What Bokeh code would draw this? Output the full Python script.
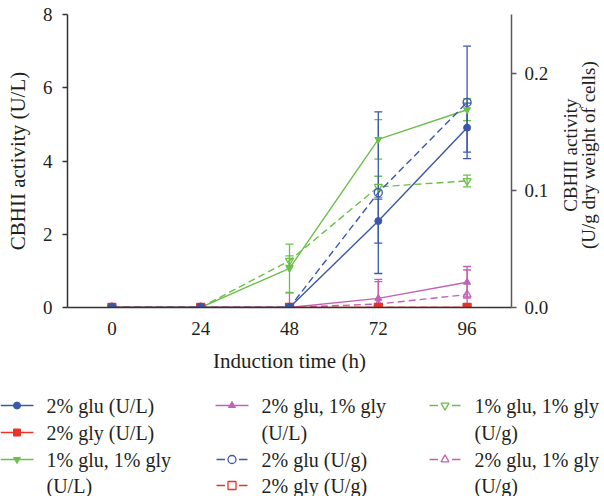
import math
from bokeh.plotting import figure
from bokeh.models import (Range1d, LinearAxis, Whisker, ColumnDataSource,
                          FixedTicker, PrintfTickFormatter, TeeHead)
from bokeh.layouts import row
from bokeh.embed import file_html
from bokeh.resources import INLINE
from bokeh.core.properties import value

# ---------------- data ----------------
time_h = [0, 24, 48, 72, 96]

# CBHII activity, U/L (left axis)
glu2_ul = [0, 0, 0, 2.36, 4.91]
glu2_ul_err = [0, 0, 0, 0.60, 0.67]
gly2_ul = [0, 0, 0, 0, 0]
gly2_ul_err = [0, 0, 0, 0, 0]
mix_ul = [0, 0, 1.07, 4.59, 5.40]
mix_ul_err = [0, 0, 0.66, 0.54, 0.30]
glugly_ul = [0, 0, 0, 0.25, 0.69]
glugly_ul_err = [0, 0, 0.40, 0.52, 0.43]

# CBHII activity, U/g dry weight of cells (right axis)
glu2_ug = [0, 0, 0, 0.098, 0.175]
glu2_ug_err = [0, 0, 0, 0.069, 0.048]
gly2_ug = [0, 0, 0, 0, 0]
gly2_ug_err = [0, 0, 0, 0, 0]
mix_ug = [0, 0, 0.040, 0.103, 0.108]
mix_ug_err = [0, 0, 0.004, 0.009, 0.005]
glugly_ug = [0, 0, 0, 0.003, 0.011]
glugly_ug_err = [0, 0, 0, 0.019, 0.021]

x_ticks = [0, 24, 48, 72, 96]
left_ticks = [0, 2, 4, 6, 8]
right_ticks = [0.0, 0.1, 0.2]

x_title = "Induction time (h)"
left_title = "CBHII activity (U/L)"
right_title = ["CBHII activity", "(U/g dry weight of cells)"]

legend_labels = ["2% glu (U/L)", "2% gly (U/L)", "1% glu, 1% gly\n(U/L)",
                 "2% glu, 1% gly\n(U/L)", "2% glu (U/g)", "2% gly (U/g)",
                 "1% glu, 1% gly\n(U/g)", "2% glu, 1% gly\n(U/g)"]

BLUE = "#3b58a8"
RED = "#e8342b"
GREEN = "#6cbf4a"
PINK = "#c262b5"
TXT = "#231f20"
FONT = "Liberation Serif"

# series: (legend index, y, err, color, marker, dashed, axis)
series = [
    (0, glu2_ul, glu2_ul_err, BLUE, "circle", False, "default"),
    (1, gly2_ul, gly2_ul_err, RED, "square", False, "default"),
    (2, mix_ul, mix_ul_err, GREEN, "inverted_triangle", False, "default"),
    (3, glugly_ul, glugly_ul_err, PINK, "triangle", False, "default"),
    (4, glu2_ug, glu2_ug_err, BLUE, "circle", True, "right"),
    (5, gly2_ug, gly2_ug_err, RED, "square", True, "right"),
    (6, mix_ug, mix_ug_err, GREEN, "inverted_triangle", True, "right"),
    (7, glugly_ug, glugly_ug_err, PINK, "triangle", True, "right"),
]
draw_order = [7, 3, 6, 2, 5, 1, 4, 0]

# ---------------- main figure ----------------
BT, BB = 14, 70
H_MAIN = BT + 293 + BB
W_MAIN = 551
p = figure(width=W_MAIN, height=H_MAIN, x_range=Range1d(-12, 108), y_range=Range1d(0, 8),
           output_backend="svg", toolbar_location=None,
           min_border_left=67, min_border_right=40, min_border_top=BT, min_border_bottom=BB)
p.extra_y_ranges = {"right": Range1d(0, 0.25)}
p.outline_line_color = None
p.xgrid.visible = False
p.ygrid.visible = False
p.background_fill_color = None
p.border_fill_color = None

def style_axis(ax):
    ax.axis_line_color = "#333333"
    ax.axis_line_width = 1.5
    ax.major_tick_line_color = "#333333"
    ax.major_tick_line_width = 1.3
    ax.minor_tick_line_color = None
    ax.major_label_text_font = FONT
    ax.major_label_text_font_size = "19px"
    ax.major_label_text_color = TXT
    ax.axis_label_text_font = FONT
    ax.axis_label_text_font_size = "21px"
    ax.axis_label_text_font_style = "normal"
    ax.axis_label_text_color = TXT

xa = p.xaxis[0]
style_axis(xa)
xa.ticker = FixedTicker(ticks=x_ticks)
xa.major_tick_out = 0
xa.major_tick_in = 0
xa.major_label_standoff = 14
xa.axis_label = x_title
xa.axis_label_standoff = 11

ya = p.yaxis[0]
style_axis(ya)
ya.ticker = FixedTicker(ticks=left_ticks)
ya.major_tick_out = 5
ya.major_tick_in = 0
ya.major_label_standoff = 10
ya.axis_label = left_title
ya.axis_label_standoff = 10

ra = LinearAxis(y_range_name="right", ticker=FixedTicker(ticks=right_ticks),
                formatter=PrintfTickFormatter(format="%.1f"))
style_axis(ra)
ra.axis_line_color = "#5a5a5a"
ra.major_tick_line_color = "#5a5a5a"
ra.major_tick_out = 5
ra.major_tick_in = 0
ra.major_label_standoff = 8
p.add_layout(ra, "right")

for idx in draw_order:
    li, ys, errs, col, mk, dashed, rng = series[idx]
    dash = "7 4" if dashed else "solid"
    xs_e = [t for t, e in zip(time_h, errs) if e > 0]
    up = [v + e for v, e in zip(ys, errs) if e > 0]
    lo = [max(v - e, 0) for v, e in zip(ys, errs) if e > 0]
    if xs_e:
        src = ColumnDataSource(dict(x=xs_e, upper=up, lower=lo))
        w = Whisker(source=src, base="x", upper="upper", lower="lower",
                    dimension="height", line_color=col, line_width=1.3,
                    upper_head=TeeHead(size=8, line_color=col, line_width=1.3),
                    lower_head=TeeHead(size=8, line_color=col, line_width=1.3),
                    y_range_name=rng)
        p.add_layout(w)
    p.line(time_h, ys, line_color=col, line_width=1.4, line_dash=dash, y_range_name=rng)
    if dashed:
        p.scatter(time_h, ys, marker=mk, size=8, line_color=col, line_width=1.3,
                  fill_color=None, y_range_name=rng)
    else:
        p.scatter(time_h, ys, marker=mk, size=7, line_color=col, line_width=1,
                  fill_color=col, y_range_name=rng)

# ---------------- right-axis title (reads bottom to top) ----------------
TOTAL_W = 604
RW = TOTAL_W - W_MAIN
rfig = figure(width=RW, height=H_MAIN, x_range=Range1d(0, RW), y_range=Range1d(0, 1),
              output_backend="svg", toolbar_location=None,
              x_axis_type=None, y_axis_type=None,
              min_border_left=0, min_border_right=0, min_border_top=BT, min_border_bottom=BB)
rfig.outline_line_color = None
rfig.xgrid.visible = False
rfig.ygrid.visible = False
rfig.background_fill_color = None
rfig.border_fill_color = None
rfig.text([19, 37], [0.52, 0.52], text=right_title, angle=math.pi / 2,
          text_font=value(FONT), text_font_size=value("19px"), text_color=TXT,
          text_align="center", text_baseline="middle")

top = row(p, rfig, spacing=0)

# ---------------- legend figure ----------------
LH = 496 - H_MAIN
leg = figure(width=TOTAL_W, height=LH, x_range=Range1d(0, TOTAL_W), y_range=Range1d(LH, 0),
             output_backend="svg", toolbar_location=None,
             x_axis_type=None, y_axis_type=None, min_border=0,
             min_border_left=0, min_border_right=0, min_border_top=0, min_border_bottom=0)
leg.outline_line_color = None
leg.xgrid.visible = False
leg.ygrid.visible = False
leg.background_fill_color = None
leg.border_fill_color = None

col_x = [0, 215, 428]
row_y = [28, 55, 82, 108]
sym_len = 33
text_dx = 46

pos = []
c, r = 0, 0
for lab in legend_labels:
    n = len(lab.split("\n"))
    if r + n > 4:
        c += 1
        r = 0
    pos.append((c, r))
    r += n

for li, ys, errs, col, mk, dashed, rng in series:
    ci, ri = pos[li]
    x0 = col_x[ci]
    yy = row_y[ri]
    xm = x0 + sym_len / 2
    if dashed:
        leg.segment([x0 + 1, xm + 7], [yy, yy], [xm - 7, x0 + sym_len - 1], [yy, yy],
                    line_color=col, line_width=1.4)
        leg.scatter([xm], [yy], marker=mk, size=8, line_color=col, line_width=1.3,
                    fill_color=None)
    else:
        leg.segment([x0], [yy], [x0 + sym_len], [yy], line_color=col, line_width=1.4)
        leg.scatter([xm], [yy], marker=mk, size=7, line_color=col, fill_color=col)
    for k, line in enumerate(legend_labels[li].split("\n")):
        leg.text([x0 + text_dx], [row_y[ri + k]], text=[line],
                 text_font=value(FONT), text_font_size=value("20px"),
                 text_color=TXT, text_baseline="middle", text_align="left")

open("out.html", "w").write(file_html([top, leg], INLINE))
